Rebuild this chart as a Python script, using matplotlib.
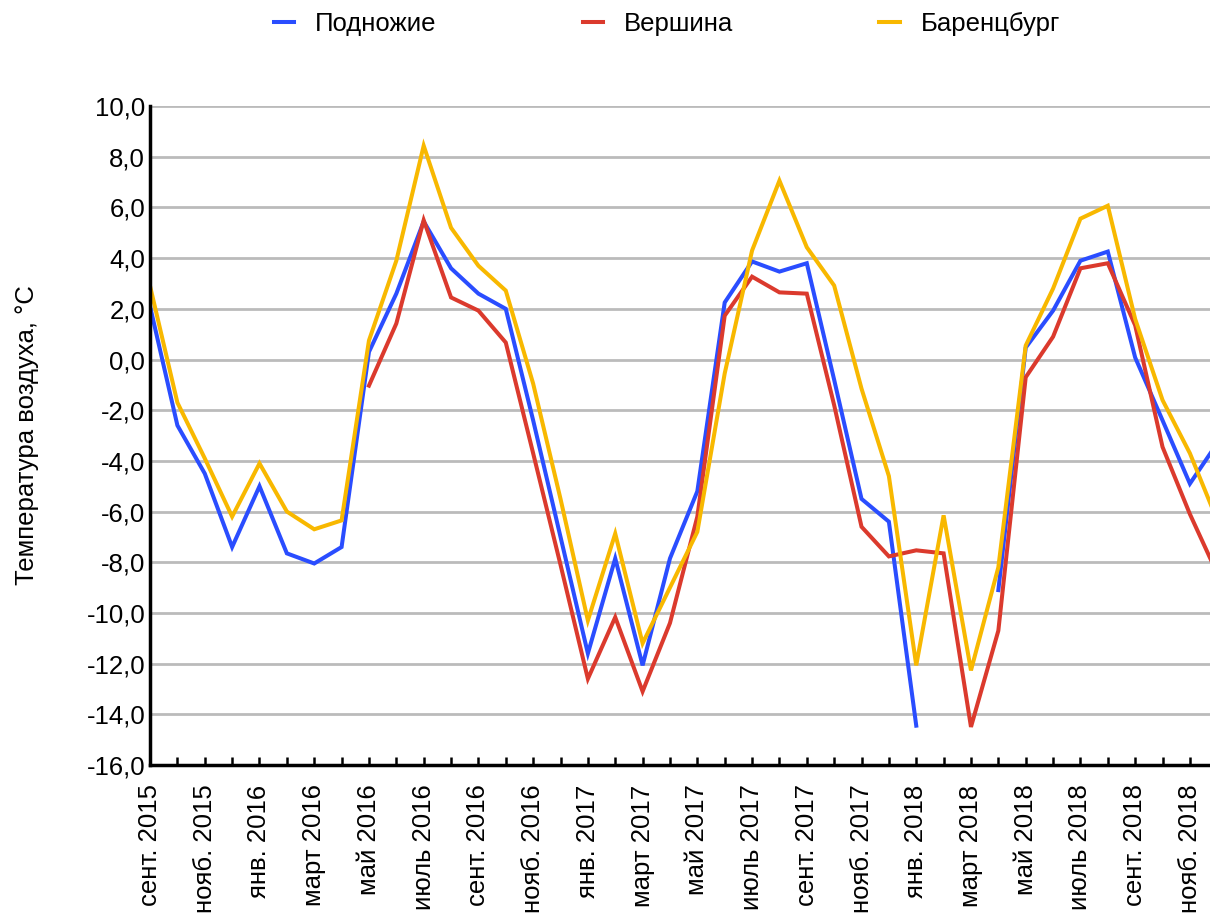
import numpy as np
import matplotlib
matplotlib.use("Agg")
import matplotlib.pyplot as plt

plt.rcParams['font.family'] = ['Liberation Sans', 'DejaVu Sans']

# monthly means, Sep 2015 .. Dec 2018
months = ['сент. 2015', 'окт. 2015', 'нояб. 2015', 'дек. 2015',
          'янв. 2016', 'февр. 2016', 'март 2016', 'апр. 2016', 'май 2016', 'июнь 2016',
          'июль 2016', 'авг. 2016', 'сент. 2016', 'окт. 2016', 'нояб. 2016', 'дек. 2016',
          'янв. 2017', 'февр. 2017', 'март 2017', 'апр. 2017', 'май 2017', 'июнь 2017',
          'июль 2017', 'авг. 2017', 'сент. 2017', 'окт. 2017', 'нояб. 2017', 'дек. 2017',
          'янв. 2018', 'февр. 2018', 'март 2018', 'апр. 2018', 'май 2018', 'июнь 2018',
          'июль 2018', 'авг. 2018', 'сент. 2018', 'окт. 2018', 'нояб. 2018', 'дек. 2018']

nan = np.nan
podnozhie = [2.1, -2.6, -4.5, -7.4, -5.0, -7.65, -8.05, -7.4, 0.3, 2.6,
             5.45, 3.6, 2.6, 2.0, -2.4, -7.0, -11.6, -7.85, -12.07, -7.85,
             -5.2, 2.25, 3.87, 3.47, 3.8, -0.8, -5.5, -6.4, -14.45, nan,
             nan, -9.1, 0.47, 1.93, 3.9, 4.26, 0.08, -2.4, -4.9, -3.3]
vershina = [nan, nan, nan, nan, nan, nan, nan, nan, -1.03, 1.42,
            5.5, 2.45, 1.93, 0.67, -3.7, -8.1, -12.6, -10.17, -13.1, -10.4,
            -6.2, 1.73, 3.27, 2.65, 2.6, -1.8, -6.6, -7.77, -7.53, -7.65,
            -14.5, -10.7, -0.7, 0.9, 3.6, 3.8, 1.35, -3.45, -6.1, -8.45]
barentsburg = [2.9, -1.7, -3.9, -6.2, -4.1, -6.0, -6.7, -6.35, 0.75, 3.9,
               8.44, 5.2, 3.7, 2.72, -0.95, -5.5, -10.3, -6.87, -11.2, -9.0,
               -6.8, -0.55, 4.3, 7.06, 4.43, 2.92, -1.15, -4.6, -12.07, -6.15,
               -12.27, -8.2, 0.55, 2.8, 5.56, 6.07, 1.6, -1.6, -3.7, -6.35]

names = ['Подножие', 'Вершина', 'Баренцбург']
colors = ['#2A4DFF', '#DB3A2D', '#F8B800']

fig = plt.figure(figsize=(12.1, 9.15), dpi=100)
ax = fig.add_axes([0.124, 0.164, 0.882, 0.72])

x = np.arange(len(months))
for ys, name, c in zip([podnozhie, vershina, barentsburg], names, colors):
    ax.plot(x, ys, color=c, lw=2.9, label=name, solid_joinstyle='miter')

ax.set_ylim(-16, 10)
ax.set_xlim(0, 39)
ax.set_yticks(np.arange(-16, 10.1, 2))
ax.set_yticklabels([f'{v:.1f}'.replace('.', ',') for v in np.arange(-16, 10.1, 2)])
ax.yaxis.grid(True, color='#BBBBBB', lw=2.0)
ax.set_axisbelow(True)

ax.set_xticks(x)
ax.set_xticklabels([m if i % 2 == 0 else '' for i, m in enumerate(months)], rotation=90)
ax.tick_params(axis='x', direction='in', length=6, width=1.8, pad=14, labelsize=18.5)
ax.tick_params(axis='y', length=0, pad=3.5, labelsize=18.5)

for s in ['top', 'right']:
    ax.spines[s].set_visible(False)
ax.spines['left'].set_linewidth(2.5)
ax.spines['bottom'].set_linewidth(2.5)

ax.set_ylabel('Температура воздуха, °C', fontsize=18.5, labelpad=34)

fig.legend(loc='upper center', bbox_to_anchor=(0.551, 1.012), ncol=3, frameon=False,
           fontsize=18.5, handlelength=0.8, handletextpad=0.8, columnspacing=5.7)

fig.savefig('out.png', dpi=100)
